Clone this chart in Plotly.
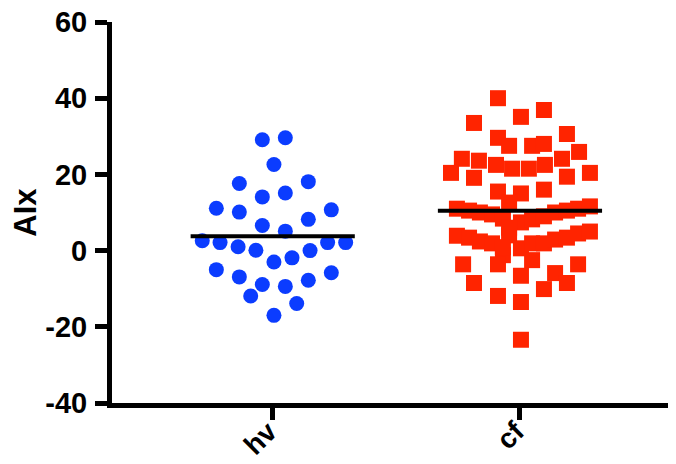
import plotly.graph_objects as go

# ---- data ----
categories = ["hv", "cf"]
cat_pos = [0, 1]

hv_values = [29.1, 29.6, 22.6, 17.6, 18.1, 14.1, 15.1, 11.1, 10.1, 10.7,
             6.6, 8.2, 5.1, 2.6, 2.1, 1.0, 0.1, -3.0, -1.9, 0.0,
             2.1, 2.1, -5.0, -6.9, -8.9, -9.4, -7.8, -5.8, -11.9, -13.9, -17.0]
hv_jitter = [-0.042, 0.051, 0.005, -0.135, 0.144, -0.042, 0.051, -0.228, -0.135, 0.237,
             -0.042, 0.144, 0.051, -0.285, -0.213, -0.140, -0.068, 0.005, 0.078, 0.151,
             0.222, 0.295, -0.228, -0.135, -0.042, 0.051, 0.144, 0.237, -0.089, 0.097, 0.005]

cf_values = [40.0, 36.9, 35.1, 33.5, 30.6, 29.6, 27.5, 27.5, 28.0, 25.9,
             24.1, 23.6, 24.1, 22.5, 21.5, 21.5, 22.5, 20.4, 20.4, 19.1,
             19.4, 15.5, 15.0, 16.0, 12.6,
             11.0, 10.5, 10.0, 9.5, 8.4, 7.4, 8.2, 9.0, 10.0, 10.5, 11.0, 11.6,
             6.0, 4.0, -1.2,
             3.9, 3.4, 2.4, 1.9, 0.9, 0.6, 1.9, 1.9, 2.9, 3.4, 4.5, 5.0,
             -3.6, -3.6, -2.5, -3.6, -6.6, -5.9, -8.5, -8.5, -10.1, -11.9, -13.5, -23.4]
cf_jitter = [-0.089, 0.097, 0.004, -0.186, 0.190, -0.089, -0.044, 0.049, 0.097, 0.239,
             -0.235, -0.166, 0.170, -0.097, -0.032, 0.036, 0.101, -0.279, 0.283, -0.186,
             0.190, -0.089, 0.004, 0.097, -0.044,
             -0.255, -0.206, -0.162, -0.113, -0.069, 0.004, 0.049, 0.097, 0.142, 0.190, 0.235, 0.283,
             -0.044, -0.044, -0.069,
             -0.255, -0.206, -0.162, -0.113, -0.069, 0.004, 0.049, 0.097, 0.142, 0.190, 0.235, 0.283,
             -0.230, -0.089, 0.049, 0.235, 0.004, 0.142, -0.186, 0.190, 0.097, -0.089, 0.004, 0.004]

y_ticks = [-40, -20, 0, 20, 40, 60]
y_tick_labels = ["-40", "-20", "0", "20", "40", "60"]
y_label = "AIx"

# ---- figure ----
BLUE = "#0b3cff"
RED = "#ff2400"
FONT = "Liberation Sans"
MEAN_HALF = 0.332

fig = go.Figure()

fig.add_trace(go.Scatter(
    x=[cat_pos[0] + j for j in hv_jitter], y=hv_values, mode="markers",
    marker=dict(symbol="circle", size=15, color=BLUE, line=dict(width=0)),
    showlegend=False, hoverinfo="y"))

fig.add_trace(go.Scatter(
    x=[cat_pos[1] + j for j in cf_jitter], y=cf_values, mode="markers",
    marker=dict(symbol="square", size=16, color=RED, line=dict(width=0)),
    showlegend=False, hoverinfo="y"))

for pos, vals in zip(cat_pos, [hv_values, cf_values]):
    m = sum(vals) / len(vals)
    fig.add_trace(go.Scatter(
        x=[pos - MEAN_HALF, pos + MEAN_HALF], y=[m, m], mode="lines",
        line=dict(color="black", width=4), showlegend=False, hoverinfo="skip"))

# page body has an 8px default margin, so the figure is sized 8px smaller
fig.update_layout(
    width=668, height=456,
    margin=dict(l=104, r=1, t=14, b=61, pad=0),
    plot_bgcolor="white", paper_bgcolor="white",
    xaxis=dict(
        range=[-0.650, 1.627], tickmode="array", tickvals=cat_pos, ticktext=categories,
        tickangle=-45, showline=True, linecolor="black", linewidth=5,
        ticks="outside", ticklen=12, tickwidth=5, tickcolor="black",
        showgrid=False, zeroline=False, automargin=False,
        ticklabelstandoff=-16, ticklabelshift=-4, ticklabeloverflow="allow",
        tickfont=dict(family=FONT, size=28, color="black", weight="bold"),
    ),
    yaxis=dict(
        range=[-40, 60], tickmode="array", tickvals=y_ticks, ticktext=y_tick_labels,
        showline=True, linecolor="black", linewidth=5,
        ticks="outside", ticklen=12, tickwidth=5, tickcolor="black",
        showgrid=False, zeroline=False, automargin=False, ticklabelstandoff=2,
        ticklabeloverflow="allow",
        tickfont=dict(family=FONT, size=29, color="black", weight="bold"),
        title=dict(text=y_label, standoff=4,
                   font=dict(family=FONT, size=31, color="black", weight="bold")),
    ),
)

fig.write_html("out.html")
